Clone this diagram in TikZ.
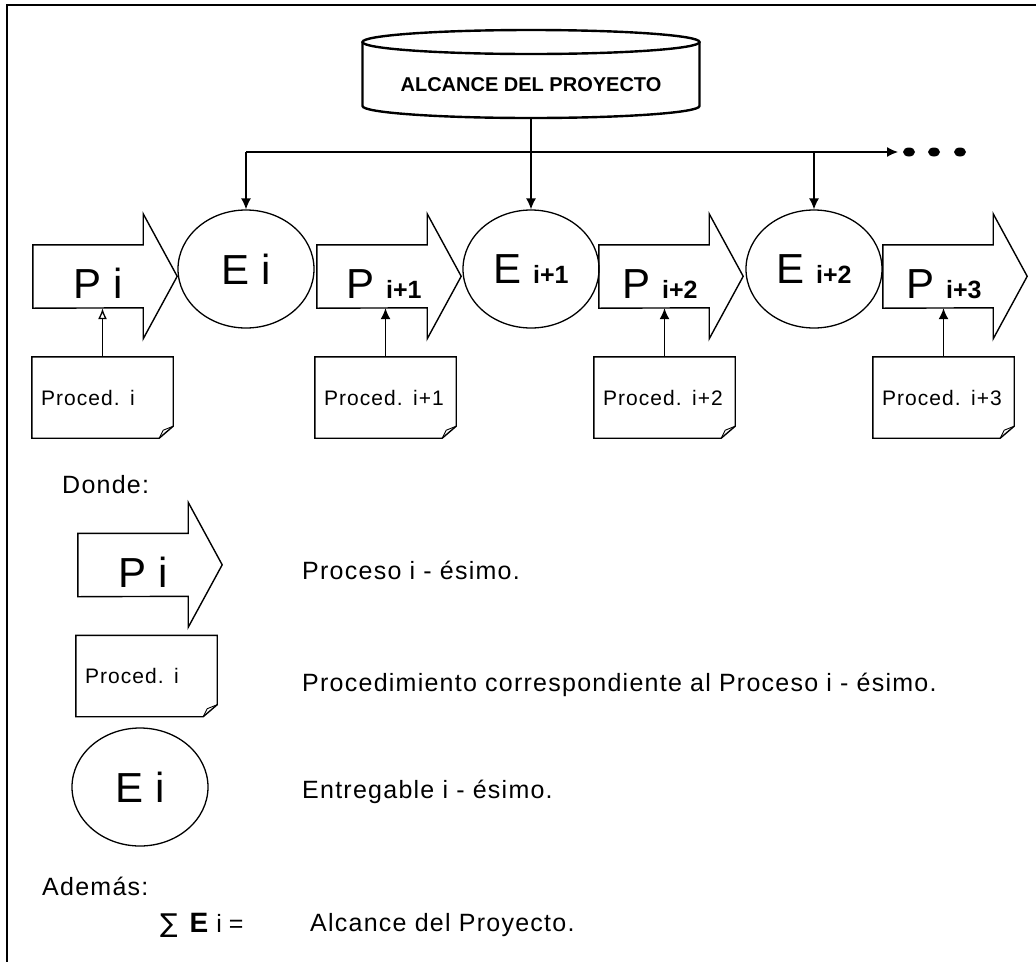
\documentclass[tikz,border=0pt]{standalone}
\usepackage{fontspec}
\setmainfont{Liberation Sans}
\newfontfamily\spacedfont[LetterSpace=5]{Liberation Sans}
\newfontfamily\symbolfont{DejaVu Sans}
\usetikzlibrary{arrows.meta,shapes.geometric}

\newcommand\sizepx[1]{\fontsize{#1}{#1}\selectfont}
\newcommand\subidx[1]{{\bfseries\sizepx{25}#1}}

% process arrow: body given by a named rectangle node, head added on its east side
\newcommand\procarrow[1]{%
  \draw[procline] (#1.north west) -- (#1.north east) -- ++(0,-31) -- ++(34,62.5)
    -- ++(-34,62.5) -- ++(0,-31) -- (#1.south west) -- cycle;}
% procedure sheet with a curled bottom-right corner
\newcommand\docsheet[1]{%
  \draw[procline] (#1.north west) -- (#1.north east) -- ([yshift=12pt]#1.south east)
    -- ([xshift=-14pt]#1.south east) -- (#1.south west) -- cycle;
  \draw[line width=0.9pt] ([xshift=-14pt]#1.south east) -- ([xshift=-10pt,yshift=8pt]#1.south east)
    -- ([yshift=12pt]#1.south east);}

\tikzset{
  frameline/.style={line width=1.6pt},
  conn/.style={line width=1.3pt,-{Latex[length=11pt,width=10pt]}},
  openconn/.style={line width=1.3pt,-{Latex[open,length=11pt,width=9pt]}},
  procline/.style={line width=1.4pt,line join=miter},
  cylline/.style={line width=2.4pt},
  pbody/.style={rectangle,minimum width=110pt,minimum height=63pt,inner sep=0pt},
  ptext/.style={anchor=base,font=\sizepx{42},inner sep=0pt},
  deliv/.style={ellipse,draw,line width=1.3pt,minimum width=136pt,minimum height=118pt,
    inner sep=0pt,font=\sizepx{42}},
  docbox/.style={rectangle,text width=123pt,inner xsep=9pt,inner ysep=0pt,
    minimum height=81pt,align=left,font=\spacedfont\sizepx{21}},
  legtext/.style={anchor=west,inner sep=0pt,font=\spacedfont\sizepx{25}},
  scopebox/.style={rectangle,minimum width=337pt,minimum height=66pt,inner sep=0pt,
    font=\bfseries\sizepx{20}},
}

\begin{document}
\begin{tikzpicture}[x=1pt,y=-1pt]
\useasboundingbox (0,0) rectangle (1036,962);

% outer frame (top and left edges)
\draw[frameline] (1036,5) -- (7,5) -- (7,962);

% project scope drum
\node[scopebox] (alc) at (531,85) {ALCANCE DEL PROYECTO};
\draw[cylline] (362.5,42) -- (362.5,106) arc[start angle=180,end angle=0,x radius=168.5,y radius=12] -- (699.5,42);
\draw[cylline] (531,42) ellipse[x radius=168.5,y radius=12];

% process chain
\node[pbody] (p1) at (88,276.5) {};
\node[pbody] (p2) at (372,276.5) {};
\node[pbody] (p3) at (654,276.5) {};
\node[pbody] (p4) at (938,276.5) {};
\procarrow{p1}\procarrow{p2}\procarrow{p3}\procarrow{p4}
\node[ptext] (p1t) at (98,298) {P i};
\node[ptext] (p2t) at (384,298) {P \subidx{i+1}};
\node[ptext] (p3t) at (660,298) {P \subidx{i+2}};
\node[ptext] (p4t) at (944,298) {P \subidx{i+3}};

\node[deliv] (e1) at (246,269) {E i};
\node[deliv] (e2) at (531,269) {E \subidx{i+1}};
\node[deliv] (e3) at (814,269) {E \subidx{i+2}};

% procedures
\node[docbox] (d1) at (102.5,397.5) {Proced. i};
\node[docbox] (d2) at (385.5,397.5) {Proced. i+1};
\node[docbox] (d3) at (664.5,397.5) {Proced. i+2};
\node[docbox] (d4) at (943.5,397.5) {Proced. i+3};
\docsheet{d1}\docsheet{d2}\docsheet{d3}\docsheet{d4}
\draw[openconn] (d1.north) -- (d1.north |- p1.south);
\draw[conn] (d2.north) -- (d2.north |- p2.south);
\draw[conn] (d3.north) -- (d3.north |- p3.south);
\draw[conn] (d4.north) -- (d4.north |- p4.south);

% scope distribution bus
\coordinate (busend) at (898,152);
\draw[conn] (alc.south) -- (e2.north);
\draw[conn] (e1.north |- busend) -- (busend);
\draw[conn] (e1.north |- busend) -- (e1.north);
\draw[conn] (e3.north |- busend) -- (e3.north);
\fill (909,152) ellipse[x radius=6,y radius=4.5];
\fill (934,152) ellipse[x radius=6,y radius=4.5];
\fill (960,152) ellipse[x radius=6,y radius=4.5];

% legend
\node[legtext] (donde) at (62,485) {Donde:};
\node[pbody] (lp) at (133,565) {};
\procarrow{lp}
\node[ptext] (lpt) at (143,587) {P i};
\node[legtext] (lpd) at (302,570) {Proceso i - ésimo.};

\node[docbox] (ld) at (146.5,676) {Proced. i};
\docsheet{ld}
\node[legtext] (ldd) at (302,685) {Procedimiento correspondiente al Proceso i - ésimo.};

\node[deliv] (le) at (140,787) {E i};
\node[legtext] (led) at (302,792) {Entregable i - ésimo.};

\node[legtext] (ademas) at (42,886) {Además:};
\node[anchor=west,inner sep=0pt] (sum) at (160,925)
  {{\symbolfont\sizepx{26}∑}\hspace{12pt}{\bfseries\sizepx{28}E}\hspace{8pt}{\sizepx{25}i =}};
\node[legtext] (scope) at (310,925) {Alcance del Proyecto.};
\end{tikzpicture}
\end{document}
